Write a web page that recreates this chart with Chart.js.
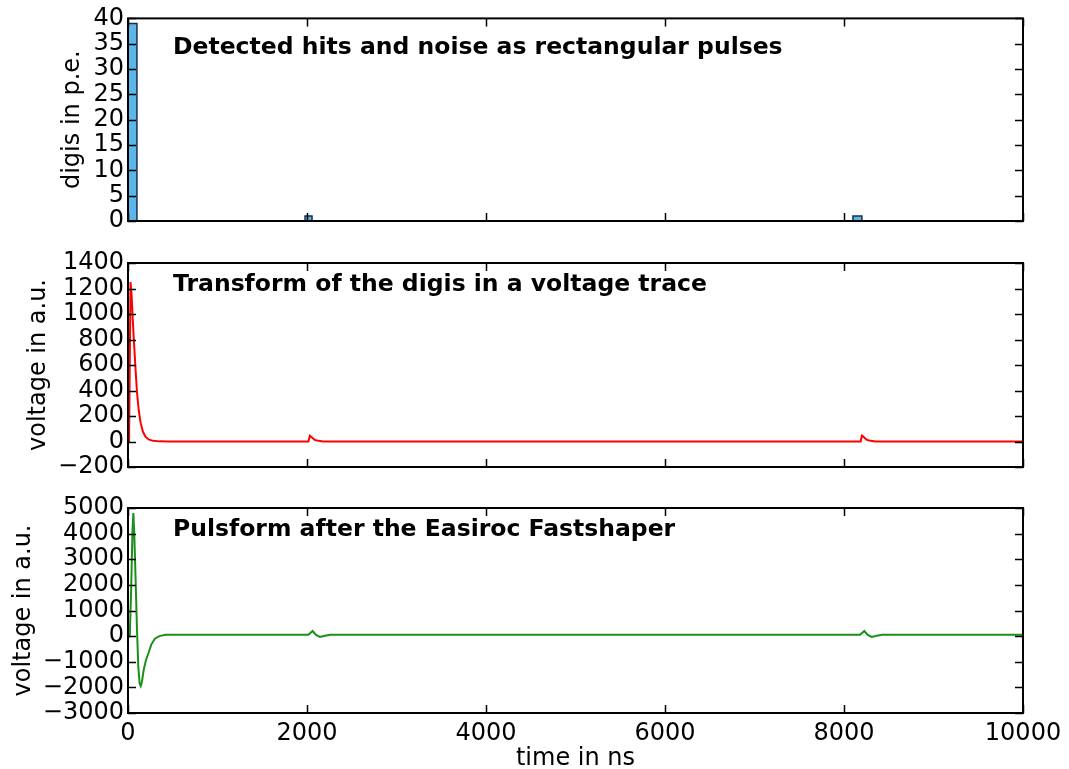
<!DOCTYPE html>
<html>
<head>
<meta charset="utf-8">
<script src="https://cdn.jsdelivr.net/npm/chart.js@4.4.1/dist/chart.umd.min.js"></script>
<style>
  html, body { margin: 0; padding: 0; background: #ffffff; }
  #wrap { position: relative; width: 1069px; height: 769px; }
  canvas { position: absolute; left: 0; top: 0; }
</style>
</head>
<body>
<div id="wrap">
  <canvas id="c1" width="1069" height="769"></canvas>
  <canvas id="c2" width="1069" height="769"></canvas>
  <canvas id="c3" width="1069" height="769"></canvas>
</div>
<script>
// ---------- data ----------
const xTicksMin = 0, xTicksMax = 10000, xTickStep = 2000;

// panel 1: rectangular pulses (histogram bins)
const binStart = [0, 1978, 8100];
const binWidth = [100, 78, 100];
const binCount = [39, 1, 1];

// panel 2: voltage trace
const redTime = [0, 12, 28, 40, 55, 70, 85, 100, 120, 140, 165, 195, 230, 280, 350, 450,
                 2016, 2032, 2045, 2065, 2090, 2130, 2180,
                 8186, 8200, 8215, 8235, 8260, 8300, 8350, 10000];
const redVolt = [0, 0, 1250, 1150, 930, 740, 560, 390, 245, 150, 80, 38, 16, 5, 1, 0,
                 0, 45, 38, 25, 12, 5, 0,
                 0, 45, 38, 25, 12, 5, 0, 0];

// panel 3: pulse after fast shaper
const greenTime = [0, 20, 35, 50, 60, 70, 85, 100, 115, 130, 142, 155, 175, 200, 230, 260, 300, 350, 420,
                   2015, 2040, 2063, 2100, 2145, 2200, 2260,
                   8180, 8205, 8227, 8265, 8310, 8365, 8425, 10000];
const greenVolt = [0, 0, 1800, 4100, 4800, 4000, 2200, 300, -1200, -1850, -1950, -1800, -1330, -940, -650, -330, -100, 0, 50,
                   50, 130, 200, 50, -30, 15, 50,
                   50, 130, 200, 50, -30, 15, 50, 50];

const title1 = 'Detected hits and noise as rectangular pulses';
const title2 = 'Transform of the digis in a voltage trace';
const title3 = 'Pulsform after the Easiroc Fastshaper';

// ---------- helpers ----------
Chart.defaults.font.family = '"DejaVu Sans", sans-serif';
Chart.defaults.font.size = 24;
Chart.defaults.color = '#000';

function histOutline() {
  const pts = [];
  for (let i = 0; i < binStart.length; i++) {
    const s = binStart[i], e = binStart[i] + binWidth[i], c = binCount[i];
    pts.push({x: s, y: 0}, {x: s, y: c}, {x: e, y: c}, {x: e, y: 0});
  }
  pts.unshift({x: xTicksMin, y: 0});
  pts.push({x: xTicksMax, y: 0});
  return pts;
}
function zip(xs, ys) { return xs.map((x, i) => ({x: x, y: ys[i]})); }
const fmt = v => String(v).replace('-', '\u2212');

const framePlugin = {
  id: 'frame',
  afterDraw(chart, args, opts) {
    const {ctx, chartArea: a, scales} = chart;
    const L = 8;
    ctx.save();
    ctx.strokeStyle = '#000';
    ctx.lineWidth = 1.5;
    ctx.beginPath();
    scales.y.ticks.forEach(t => {
      const py = Math.round(scales.y.getPixelForValue(t.value)) + 0.5;
      ctx.moveTo(a.left, py); ctx.lineTo(a.left + L, py);
      ctx.moveTo(a.right, py); ctx.lineTo(a.right - L, py);
    });
    scales.x.ticks.forEach(t => {
      const px = Math.round(scales.x.getPixelForValue(t.value)) + 0.5;
      ctx.moveTo(px, a.bottom); ctx.lineTo(px, a.bottom - L);
      ctx.moveTo(px, a.top); ctx.lineTo(px, a.top + L);
    });
    ctx.stroke();
    ctx.lineWidth = 2;
    ctx.strokeRect(a.left, a.top, a.right - a.left, a.bottom - a.top);
    ctx.font = 'bold 23.5px "DejaVu Sans", sans-serif';
    ctx.fillStyle = '#000';
    ctx.textBaseline = 'middle';
    ctx.textAlign = 'left';
    ctx.fillText(opts.text, a.left + 45, a.top + opts.dy);
    ctx.restore();
  }
};

function makeChart(id, cfg) {
  const showX = cfg.showX;
  return new Chart(document.getElementById(id), {
    type: 'line',
    data: { datasets: cfg.datasets },
    options: {
      responsive: false,
      devicePixelRatio: 1,
      animation: false,
      layout: { padding: { left: 0, right: 46, top: cfg.top, bottom: cfg.bottom } },
      plugins: {
        legend: { display: false },
        tooltip: { enabled: false },
        frame: { text: cfg.text, dy: cfg.dy }
      },
      elements: { point: { radius: 0 }, line: { tension: 0 } },
      scales: {
        x: {
          type: 'linear',
          min: xTicksMin, max: xTicksMax,
          grid: { display: false, drawTicks: false },
          border: { display: false },
          ticks: { display: showX, stepSize: xTickStep, autoSkip: false, maxRotation: 0, padding: 6, callback: fmt },
          title: { display: showX, text: 'time in ns', font: { size: 24, lineHeight: 0.83 }, padding: { top: 0, bottom: 0 } },
          afterFit: s => { s.height = showX ? 56 : 0; }
        },
        y: {
          type: 'linear',
          min: cfg.ymin, max: cfg.ymax,
          grid: { display: false, drawTicks: false },
          border: { display: false },
          ticks: { stepSize: cfg.ystep, autoSkip: false, padding: 4, callback: fmt },
          title: { display: true, text: cfg.ylabel, font: { size: 24, lineHeight: 1 }, padding: { top: cfg.ytitlePad, bottom: 0 } },
          afterFit: s => { s.width = 128; }
        }
      }
    },
    plugins: [framePlugin]
  });
}

makeChart('c1', {
  top: 17, bottom: 548, showX: false, dy: 29,
  ymin: 0, ymax: 40, ystep: 5, ylabel: 'digis in p.e.', ytitlePad: 61, text: title1,
  datasets: [{
    data: histOutline(),
    borderColor: '#1b2f44', borderWidth: 1.5,
    backgroundColor: '#5db6ea', fill: 'origin'
  }]
});

makeChart('c2', {
  top: 263, bottom: 302, showX: false, dy: 22,
  ymin: -200, ymax: 1400, ystep: 200, ylabel: 'voltage in a.u.', ytitlePad: 27, text: title2,
  datasets: [{ data: zip(redTime, redVolt), borderColor: '#ff0000', borderWidth: 2, fill: false }]
});

makeChart('c3', {
  top: 508, bottom: 0, showX: true, dy: 22,
  ymin: -3000, ymax: 5000, ystep: 1000, ylabel: 'voltage in a.u.', ytitlePad: 12, text: title3,
  datasets: [{ data: zip(greenTime, greenVolt), borderColor: '#1a901a', borderWidth: 2, fill: false }]
});
</script>
</body>
</html>
